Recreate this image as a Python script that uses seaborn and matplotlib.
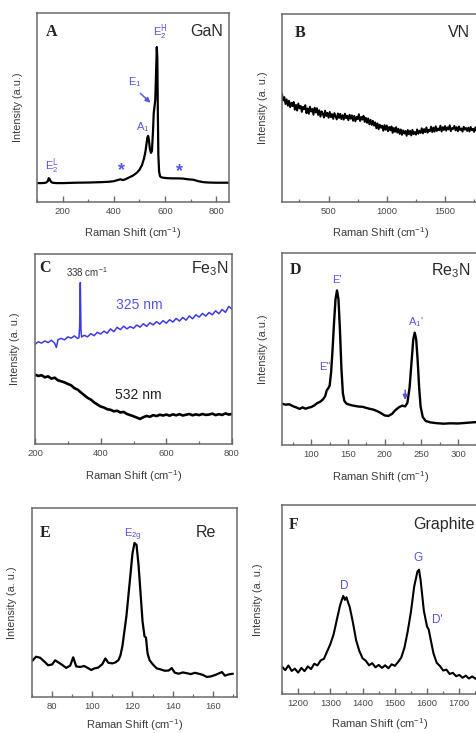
import numpy as np
import pandas as pd
import matplotlib
matplotlib.use("Agg")
import matplotlib.pyplot as plt
from matplotlib.ticker import MultipleLocator
import seaborn as sns

# ---------------- spectra (intensity in arbitrary units, 0-100) ----------------
gan_shift = [100, 120, 135, 142, 146, 150, 154, 160, 175, 200, 250, 300, 350, 380, 400,
             415, 425, 435, 445, 460, 475, 490, 500, 510, 518, 524, 528, 531, 534, 537,
             541, 545, 549, 553, 556, 559, 562, 565, 568, 570, 572, 574, 577, 581, 587,
             595, 610, 630, 650, 670, 690, 710, 730, 750, 770, 800, 850]
gan_int = [10.0, 10.0, 10.2, 11.0, 12.6, 12.0, 10.8, 10.2, 10.0, 10.0, 10.2, 10.3, 10.5, 10.7, 11.0,
           11.6, 12.0, 11.6, 12.0, 13.0, 14.0, 15.5, 17.0, 19.5, 23.0, 27.0, 31.0, 34.0, 35.0, 33.0,
           28.0, 26.0, 27.0, 37.0, 47.0, 50.5, 54.0, 68.0, 82.0, 76.0, 48.0, 25.0, 16.0, 13.5, 13.0,
           12.8, 12.6, 12.5, 12.5, 12.4, 12.0, 11.8, 11.0, 10.5, 10.3, 10.2, 10.2]

vn_shift = list(range(100, 1801, 10))
vn_int = [57.5, 54.0, 55.8, 52.1, 54.6, 51.2, 53.9, 50.4, 52.8, 51.0,
          53.2, 49.1, 51.7, 48.6, 52.4, 49.8, 51.1, 47.9, 50.6, 49.3,
          51.5, 47.2, 49.8, 46.9, 50.7, 48.1, 49.5, 46.4, 50.2, 47.6,
          49.9, 46.3, 48.8, 45.4, 48.2, 47.0, 44.9, 48.6, 45.7, 47.4,
          44.8, 47.9, 45.1, 46.8, 44.2, 47.3, 45.6, 43.9, 47.1, 44.7,
          46.9, 44.1, 46.2, 43.8, 47.0, 44.6, 45.9, 43.5, 46.4, 44.3,
          46.1, 43.2, 45.8, 42.9, 45.3, 44.0, 46.7, 43.1, 45.2, 43.8,
          45.9, 42.6, 44.8, 42.1, 44.5, 41.3, 43.7, 41.0, 43.2, 40.6,
          42.4, 39.2, 41.8, 38.7, 41.1, 39.5, 40.6, 37.9, 40.9, 38.4,
          40.7, 37.6, 39.9, 38.1, 40.2, 36.8, 39.4, 37.3, 39.8, 36.9,
          38.9, 36.2, 38.6, 35.7, 38.1, 36.4, 37.8, 35.2, 38.3, 36.0,
          37.9, 35.4, 38.4, 36.1, 37.2, 35.8, 38.6, 36.3, 37.9, 36.7,
          39.2, 36.5, 38.8, 37.1, 39.7, 36.9, 38.4, 37.6, 40.1, 37.2,
          39.6, 37.4, 40.3, 37.8, 39.1, 38.2, 40.6, 37.5, 39.8, 38.3,
          40.4, 37.9, 39.7, 38.6, 40.8, 37.7, 39.3, 38.9, 40.5, 38.1,
          39.8, 37.6, 40.2, 38.3, 39.1, 37.4, 40.0, 38.5, 39.4, 37.8,
          39.6, 37.5, 39.9, 38.2, 38.9, 37.3, 39.7, 38.0, 39.2, 37.6, 38.8]

fe_uv_shift = [200, 210, 220, 230, 240, 250, 260, 265, 270, 280, 290, 300, 310, 320, 330,
               334, 336, 338, 340, 342, 350, 360, 370, 380, 390, 400, 410, 420, 430, 440,
               450, 460, 470, 480, 490, 500, 510, 520, 530, 540, 550, 560, 570, 580, 590,
               600, 610, 620, 630, 640, 650, 660, 670, 680, 690, 700, 710, 720, 730, 740,
               750, 760, 770, 780, 790, 800]
fe_uv_int = [52.5, 53.8, 53.1, 54.2, 53.4, 54.6, 53.0, 50.8, 54.9, 55.6, 54.8, 56.4, 55.7, 56.9, 55.5,
             56.0, 62.0, 85.0, 60.0, 56.3, 57.2, 56.4, 58.1, 57.0, 58.8, 57.9, 59.4, 58.3, 60.6, 59.1,
             61.4, 60.2, 62.0, 60.6, 61.8, 60.9, 62.6, 61.5, 63.3, 61.9, 63.8, 62.7, 64.4, 63.1, 64.9,
             63.6, 65.4, 64.2, 66.1, 64.7, 66.6, 65.2, 67.4, 65.9, 68.0, 66.8, 68.7, 67.3, 69.2, 68.0,
             70.1, 68.6, 70.8, 69.3, 72.4, 71.0]

fe_vis_shift = list(range(200, 801, 10))
fe_vis_int = [36.5, 35.8, 36.2, 35.1, 35.6, 34.4, 34.9, 33.5, 33.0, 32.4,
              31.6, 30.9, 29.4, 28.6, 27.1, 25.7, 24.3, 23.4, 21.9, 20.8,
              19.7, 19.2, 18.3, 18.0, 17.2, 17.5, 16.6, 16.9, 15.8, 15.2,
              14.6, 13.9, 13.2, 14.1, 14.8, 14.3, 15.2, 14.7, 15.4, 15.0,
              15.5, 14.9, 15.6, 15.1, 15.7, 15.0, 15.4, 15.8, 15.1, 15.6,
              15.2, 15.8, 15.3, 15.5, 16.0, 15.2, 15.7, 15.3, 16.1, 15.5, 15.8]

re3n_shift = [60, 65, 70, 75, 80, 84, 88, 92, 96, 100, 104, 108, 112, 116, 119,
              121, 123, 125, 127, 129, 131, 133, 135, 137, 139, 141, 143, 145, 148, 152,
              156, 160, 165, 170, 175, 180, 185, 190, 195, 200, 205, 210, 215, 220, 224,
              228, 231, 234, 237, 239, 241, 243, 245, 247, 249, 252, 256, 262, 270, 280,
              290, 300, 310, 320, 330]
re3n_int = [21.5, 21.0, 21.2, 20.2, 19.5, 18.8, 19.6, 18.9, 19.4, 19.8, 20.6, 21.8, 22.5, 23.8, 25.5,
            28.5, 29.5, 31.0, 38.0, 50.0, 64.0, 76.0, 80.5, 76.0, 60.0, 40.0, 27.0, 23.0, 21.5, 21.0,
            20.6, 20.3, 20.0, 19.9, 19.3, 18.8, 18.4, 17.6, 16.6, 15.4, 15.1, 16.2, 18.3, 19.8, 20.5,
            20.1, 22.0, 30.0, 45.0, 55.0, 58.5, 55.0, 44.0, 30.0, 20.0, 14.5, 12.5, 11.8, 11.4, 11.1,
            11.3, 11.2, 11.5, 11.8, 12.0]

re_shift = [70, 72, 74, 76, 78, 80, 81.5, 83, 85, 87, 89, 90.5, 92, 94, 96,
            98, 99.5, 101, 103, 105, 106.5, 108, 110, 111.5, 113, 114, 115, 116, 117, 118,
            119, 120, 121, 122, 123, 124, 125, 126, 126.7, 127.5, 128.5, 130, 132, 134, 136,
            138, 139.5, 141, 143, 145, 147, 149, 151, 153, 155, 157, 159, 161, 163, 164.5,
            166, 168, 170]
re_int = [19.0, 21.3, 20.8, 18.9, 16.8, 17.2, 19.4, 18.4, 17.0, 15.4, 16.6, 21.0, 16.2, 15.9, 16.4,
          15.2, 14.3, 15.1, 15.6, 17.4, 20.4, 18.1, 17.8, 18.3, 19.5, 22.0, 27.0, 35.0, 43.0, 54.0,
          65.0, 76.0, 81.5, 80.5, 70.0, 55.0, 40.0, 32.0, 31.5, 23.0, 19.5, 17.4, 15.2, 14.6, 13.9,
          14.0, 15.3, 12.9, 12.3, 13.0, 12.6, 12.1, 12.8, 12.3, 11.7, 10.6, 10.9, 11.6, 12.5, 13.2,
          11.3, 12.0, 12.3]

graphite_shift = [1150, 1160, 1170, 1180, 1190, 1200, 1210, 1220, 1230, 1240, 1250, 1260, 1270,
                  1280, 1290, 1300, 1310, 1320, 1330, 1335, 1340, 1345, 1350, 1355, 1360, 1370,
                  1380, 1390, 1400, 1410, 1420, 1430, 1440, 1450, 1460, 1470, 1480, 1490, 1500,
                  1510, 1520, 1530, 1540, 1550, 1560, 1570, 1575, 1580, 1590, 1600, 1605, 1610,
                  1620, 1630, 1640, 1650, 1660, 1670, 1680, 1690, 1700, 1710, 1720, 1730, 1740,
                  1750, 1760]
graphite_int = [14.5, 12.6, 15.1, 12.2, 13.4, 11.3, 13.8, 12.1, 14.6, 13.2, 16.0, 15.1, 17.8,
                18.6, 22.5, 26.4, 31.5, 39.2, 46.8, 49.5, 51.9, 49.8, 51.2, 48.4, 46.1, 37.8,
                28.4, 22.7, 18.9, 17.6, 15.2, 16.3, 14.1, 15.4, 13.8, 15.2, 13.6, 15.7, 14.9,
                16.9, 19.3, 24.6, 33.2, 43.5, 56.8, 64.7, 65.8, 60.2, 44.1, 35.6, 34.2, 29.8,
                21.4, 16.5, 14.8, 12.4, 12.9, 10.6, 11.2, 9.4, 10.1, 8.6, 9.7, 8.2, 9.3,
                8.1, 8.9]

# ---------------- style ----------------
sns.set_theme(style="white")
plt.rcParams["font.family"] = ["Liberation Sans", "DejaVu Sans"]
plt.rcParams["mathtext.default"] = "regular"

BLUE_TXT = "#5656e2"
BLUE_LINE = "#3a3ae6"
GREY = "#3c3c3c"
SPINE = "#6a6a6a"
W, H = 477, 733

fig = plt.figure(figsize=(W / 100, H / 100), dpi=100)
fig.patch.set_facecolor("white")


def add_axes(left, right, top, bottom):
    return fig.add_axes([left / W, 1 - bottom / H, (right - left) / W, (bottom - top) / H])


def style(ax, xlim, major, minor, ylabel, ylab_x, xlab_y=-0.125):
    ax.set_xlim(*xlim)
    ax.set_ylim(0, 100)
    ax.set_yticks([])
    ax.xaxis.set_major_locator(MultipleLocator(major))
    ax.xaxis.set_minor_locator(MultipleLocator(minor))
    ax.tick_params(axis="x", which="major", direction="in", length=4, width=1,
                   color=SPINE, labelsize=6.8, labelcolor="#4a4a4a", pad=3.5,
                   bottom=True, top=False)
    ax.tick_params(axis="x", which="minor", direction="in", length=2.2, width=0.9,
                   color=SPINE, bottom=True, top=False)
    for s in ax.spines.values():
        s.set_color(SPINE)
        s.set_linewidth(1.1)
    ax.set_xlabel("Raman Shift (cm$^{-1}$)", fontsize=8, color=GREY)
    ax.set_ylabel(ylabel, fontsize=7.8, color=GREY)
    ax.xaxis.set_label_coords(0.5, xlab_y)
    ax.yaxis.set_label_coords(ylab_x, 0.5)
    ax.set_facecolor("white")


def tag(ax, letter, x, name, nx, y=0.90):
    ax.text(x, y, letter, transform=ax.transAxes, fontsize=11.5, fontweight="bold",
            family="Liberation Serif", color="#222222", ha="center", va="center")
    ax.text(nx, y, name, transform=ax.transAxes, fontsize=11.5, color="#2a2a2a",
            ha="right", va="center")


def draw(ax, x, y, color="black", lw=1.6):
    df = pd.DataFrame({"shift": x, "intensity": y})
    sns.lineplot(data=df, x="shift", y="intensity", ax=ax, color=color, linewidth=lw,
                 estimator=None, sort=False, legend=False)


# ---------------- A: GaN ----------------
axA = add_axes(37, 229, 13, 202)
draw(axA, gan_shift, gan_int, lw=1.6)
style(axA, (100, 850), 200, 100, "Intensity (a.u.)", -0.075)
tag(axA, "A", 0.078, "GaN", 0.97)
axA.text(580, 90, r"E$_2^{\rm H}$", color=BLUE_TXT, fontsize=8, ha="center", va="center")
axA.text(483, 63.5, r"E$_1$", color=BLUE_TXT, fontsize=8, ha="center", va="center")
axA.annotate("", xy=(551, 51.5), xytext=(496, 58.5),
             arrowprops=dict(arrowstyle="-|>", color=BLUE_TXT, lw=1.1, mutation_scale=7))
axA.text(514, 39.5, r"A$_1$", color=BLUE_TXT, fontsize=8, ha="center", va="center")
axA.text(159, 19, r"E$_2^{\rm L}$", color=BLUE_TXT, fontsize=8, ha="center", va="center")
axA.text(432, 16.5, "*", color=BLUE_TXT, fontsize=13, fontweight="bold", ha="center", va="center")
axA.text(655, 16.0, "*", color=BLUE_TXT, fontsize=13, fontweight="bold", ha="center", va="center")

# ---------------- B: VN ----------------
axB = add_axes(282, 480, 14, 202)
draw(axB, vn_shift, vn_int, lw=1.4)
style(axB, (100, 1800), 500, 250, "Intensity (a. u.)", -0.07)
tag(axB, "B", 0.09, "VN", 0.95)

# ---------------- C: Fe3N ----------------
axC = add_axes(35, 232, 254, 444)
draw(axC, fe_uv_shift, fe_uv_int, color=BLUE_LINE, lw=1.1)
draw(axC, fe_vis_shift, fe_vis_int, lw=1.9)
style(axC, (200, 800), 200, 100, "Intensity (a. u.)", -0.075)
tag(axC, "C", 0.05, r"Fe$_3$N", 0.985, y=0.925)
axC.text(358, 90.5, "338 cm$^{-1}$", color="#333333", fontsize=7, ha="center", va="center")
axC.text(517, 73, "325 nm", color=BLUE_TXT, fontsize=10, ha="center", va="center")
axC.text(514, 26, "532 nm", color="#222222", fontsize=10, ha="center", va="center")

# ---------------- D: Re3N ----------------
axD = add_axes(282, 480, 253, 445)
draw(axD, re3n_shift, re3n_int, lw=1.7)
style(axD, (60, 330), 50, 25, "Intensity (a.u.)", -0.07)
tag(axD, "D", 0.07, r"Re$_3$N", 0.95, y=0.91)
axD.text(135, 86, "E'", color=BLUE_TXT, fontsize=8, ha="center", va="center")
axD.text(118, 40.5, 'E"', color=BLUE_TXT, fontsize=8, ha="center", va="center")
axD.text(243, 64, r"A$_1$'", color=BLUE_TXT, fontsize=8, ha="center", va="center")
axD.annotate("", xy=(228, 22), xytext=(228, 30),
             arrowprops=dict(arrowstyle="-|>", color=BLUE_TXT, lw=1.1, mutation_scale=7))

# ---------------- E: Re ----------------
axE = add_axes(32, 237, 508, 697)
draw(axE, re_shift, re_int, lw=1.6)
style(axE, (70, 172), 20, 10, "Intensity (a. u.)", -0.075, xlab_y=-0.108)
tag(axE, "E", 0.065, "Re", 0.90, y=0.87)
axE.text(120, 86, r"E$_{2g}$", color=BLUE_TXT, fontsize=8, ha="center", va="center")

# ---------------- F: Graphite ----------------
axF = add_axes(282, 478, 505, 694)
draw(axF, graphite_shift, graphite_int, lw=1.5)
style(axF, (1150, 1758), 100, 50, "Intensity (a. u.)", -0.095, xlab_y=-0.118)
tag(axF, "F", 0.06, "Graphite", 0.985, y=0.895)
axF.text(1342, 57, "D", color=BLUE_TXT, fontsize=8.5, ha="center", va="center")
axF.text(1572, 72, "G", color=BLUE_TXT, fontsize=8.5, ha="center", va="center")
axF.text(1632, 39, "D'", color=BLUE_TXT, fontsize=8.5, ha="center", va="center")

fig.savefig("out.png", dpi=100, facecolor="white")
